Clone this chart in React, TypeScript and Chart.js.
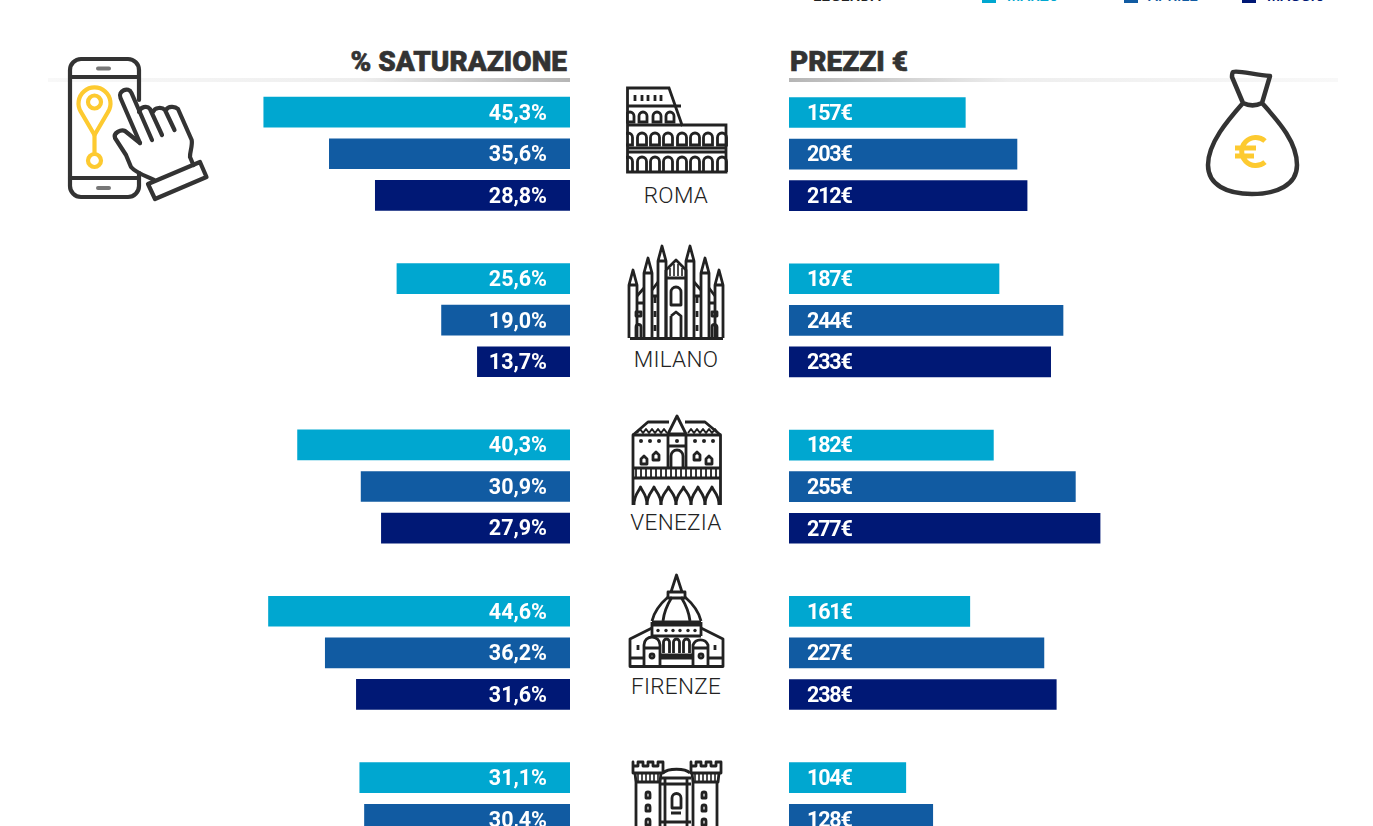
import React, { useEffect, useRef } from "react";
import { Chart, registerables } from "chart.js";

Chart.register(...registerables);

const cities = ["ROMA", "MILANO", "VENEZIA", "FIRENZE", "NAPOLI"];
const months = ["MARZO", "APRILE", "MAGGIO"];
const monthColors = ["#00a7d0", "#115ba2", "#001875"];

const saturationMarzo = [45.3, 25.6, 40.3, 44.6, 31.1];
const saturationAprile = [35.6, 19.0, 30.9, 36.2, 30.4];
const saturationMaggio = [28.8, 13.7, 27.9, 31.6];

const pricesMarzo = [157, 187, 182, 161, 104];
const pricesAprile = [203, 244, 255, 227, 128];
const pricesMaggio = [212, 233, 277, 238];

const SLOTS = 18;

function slots(series: number[][]) {
  return series.map((values, m) => {
    const out: (number | null)[] = new Array(SLOTS).fill(null);
    values.forEach((v, c) => {
      const i = c * 4 + m;
      if (i < SLOTS) out[i] = v;
    });
    return out;
  });
}

function makeChart(
  canvas: HTMLCanvasElement,
  series: number[][],
  max: number,
  reverse: boolean,
  padTop: number,
  spacing: string,
  fmt: (v: number) => string
) {
  const data = slots(series);
  const labelPlugin = {
    id: "barText",
    afterDatasetsDraw(chart: any) {
      const ctx = chart.ctx;
      ctx.save();
      ctx.font = "700 21.5px Roboto";
      ctx.letterSpacing = spacing;
      ctx.fillStyle = "#ffffff";
      ctx.textBaseline = "middle";
      ctx.textAlign = reverse ? "right" : "left";
      chart.data.datasets.forEach((ds: any, d: number) => {
        chart.getDatasetMeta(d).data.forEach((el: any, i: number) => {
          const v = ds.data[i];
          if (v == null) return;
          ctx.fillText(fmt(v), reverse ? el.base - 23 : el.base + 18, el.y + 2);
        });
      });
      ctx.restore();
    },
  };
  return new Chart(canvas, {
    type: "bar",
    data: {
      labels: data[0].map((_, i) => String(i)),
      datasets: data.map((d, m) => ({
        label: months[m],
        data: d,
        backgroundColor: monthColors[m],
        barThickness: 30,
        borderWidth: 0,
      })),
    },
    options: {
      indexAxis: "y",
      animation: false,
      responsive: false,
      maintainAspectRatio: false,
      layout: { padding: { top: padTop, left: 0, right: 0, bottom: 0 } },
      plugins: { legend: { display: false }, tooltip: { enabled: false } },
      scales: {
        x: { display: false, stacked: true, min: 0, max, reverse },
        y: { display: false, stacked: true },
      },
    } as any,
    plugins: [labelPlugin],
  });
}

const abs = (o: React.CSSProperties): React.CSSProperties => ({ position: "absolute", ...o });

const INK = "#222";
const GOLD = "#fdca30";

const arch = (cx: number, bottom: number, h: number, w: number, closed = false) =>
  `M${cx - w / 2} ${bottom}V${bottom - h + w / 2}a${w / 2} ${w / 2} 0 0 1 ${w} 0V${bottom}${closed ? "Z" : ""}`;
const pointed = (x1: number, x2: number, bottom: number, h: number) =>
  `M${x1} ${bottom}C${x1} ${bottom - h * 0.6} ${(x1 + x2) / 2 - 2} ${bottom - h * 0.7} ${(x1 + x2) / 2} ${bottom - h}C${(x1 + x2) / 2 + 2} ${bottom - h * 0.7} ${x2} ${bottom - h * 0.6} ${x2} ${bottom}`;
const spire = (x: number, top: number, bottom: number) =>
  `M${x - 4} ${bottom}V${top + 15}L${x} ${top}L${x + 4} ${top + 15}V${bottom}M${x - 4} ${top + 15}H${x + 4}`;

function PhoneIcon() {
  return (
    <svg style={abs({ left: 60, top: 50 })} width={155} height={160} viewBox="60 50 155 160" fill="none">
      <g stroke="#333" strokeWidth={4.2} strokeLinecap="round" strokeLinejoin="round">
        <path d="M139 100V70a11 11 0 0 0 -11 -11H81a11 11 0 0 0 -11 11v116a11 11 0 0 0 11 11h47a11 11 0 0 0 11 -11v-13" />
        <path d="M70 77H139M70 178H137" />
        <path d="M140 143L120.500 98c-3-7 8-12 11-5L152 140" />
        <path d="M139 112c1-5 8-7 11-3L162 135M153 112c2-5 9-5 12-2L174.500 130M166 110c2-4 9-4 12-1L191.700 140c1 6-2 12-1.700 17l3.400 8" />
        <path d="M140 143L125 131c-4-2-12 2-10 7L126 155L131 167c5 6 15 9 23 13" />
        <path d="M148 184L200 162L206.500 177L155 199Z" />
      </g>
      <path d="M98 68.500H109M98 188H109" stroke="#777" strokeWidth={4} strokeLinecap="round" />
      <g stroke={GOLD} strokeWidth={4.2} strokeLinecap="round" strokeLinejoin="round">
        <path d="M94.500 135L81 112a16 16 0 1 1 27 0Z" />
        <circle cx="94.500" cy="102" r="6.500" />
        <circle cx="94.500" cy="160.500" r="6.500" />
        <path d="M94.500 135V154" />
      </g>
    </svg>
  );
}

function BagIcon() {
  return (
    <svg style={abs({ left: 1195, top: 60 })} width={115} height={145} viewBox="1195 60 115 145" fill="none">
      <path d="M1233 72c5-2 22 3 37 4l-8 27c-6 3-13 3-19 0l-11-26c0-3 0-4 1-5ZM1243 103c-15 17-35 40-35 62 0 20 19 29 44 29s45-9 45-29c0-24-20-45-35-62" stroke="#333" strokeWidth={4.5} strokeLinejoin="round" />
      <path d="M1265 141a14 14 0 1 0 0 21M1235 148H1256M1235 156H1254" stroke={GOLD} strokeWidth={5} />
    </svg>
  );
}

function Colosseum() {
  const row1 = [630, 643, 657, 670];
  const row2 = [628, 642, 655, 668, 682, 695, 708, 722];
  return (
    <svg style={abs({ left: 626, top: 80 })} width={102} height={95} viewBox="626 80 102 95" fill="none">
      <g stroke={INK} strokeWidth={2.8} strokeLinejoin="miter">
        <path d="M627.500 88H669L682 125H726V172H627.500Z" />
        <path d="M628 106H681M628 125H682M628 148H726M628 152H726" />
        <path d="M635 95v6M642 95v6M648 95v6M655 95v6M661 95v6" />
        {row1.map((x) => <path key={x} d={arch(x, 122, 10, 8, true)} />)}
        {row2.map((x) => <path key={x} d={arch(x, 145, 12, 9, true)} />)}
        {row2.map((x) => <path key={x} d={arch(x, 172, 15, 9)} />)}
      </g>
    </svg>
  );
}

function Duomo() {
  const spires = [[633, 270], [648, 258], [662, 246], [690, 246], [705, 258], [719, 270]];
  return (
    <svg style={abs({ left: 620, top: 240 })} width={112} height={105} viewBox="620 240 112 105" fill="none">
      <g stroke={INK} strokeWidth={2.8} strokeLinejoin="round">
        <path d="M630 338.500H723" strokeWidth={3} />
        {spires.map(([x, t]) => <path key={x} d={spire(x, t, 338)} />)}
        <path d="M666 270L676 260L686 270V338M666 270V338M666 278H686" />
        <path d="M670 268v8M674 264v12M678 264v12M682 268v8" strokeWidth={1.6} />
        <path d="M652 290L658 282M652 296H658M694 282L701 290M694 296H701M637 296L644 288M637 303H644M709 288L715 296M709 303H715" />
        <path d="M671 305V292a5 5 0 0 1 10 0v13ZM671 316l5-4 5 4V338M671 316V338" />
        <path d="M655 297v6M655 311v6M655 325v6M697 297v6M697 311v6M697 325v6" />
        <path d="M636 338v-11a2.500 2.500 0 0 1 5 0v11M712 338v-11a2.500 2.500 0 0 1 5 0v11M636 316h5v-4h-5ZM712 316h5v-4h-5Z" />
      </g>
    </svg>
  );
}

function Palazzo() {
  const windows = [644, 656, 697, 709];
  const dots = [641, 650, 659, 695, 704, 713];
  const hatch = [636, 641, 646, 651, 656, 661, 666, 671, 676, 681, 686, 691, 696, 701, 706, 711, 716];
  const arches = [[634, 647], [647, 661], [661, 676], [676, 691], [691, 705], [705, 719]];
  return (
    <svg style={abs({ left: 620, top: 410 })} width={112} height={100} viewBox="620 410 112 100" fill="none">
      <g stroke={INK} strokeWidth={2.8} strokeLinejoin="round">
        <path d="M633 505V435H720.500V505M633 468H720.500M633 478H720.500" />
        <path d="M633 435L648 422H669M685 422H705L720.500 435" />
        <path d="M637 433l3-4 3 4 3-4 3 4 3-4 3 4 3-4 3 4 3-4 3 4M688 433l3-4 3 4 3-4 3 4 3-4 3 4 3-4 3 4 3-4 3 4" strokeWidth={2} />
        <path d="M668 434L677 416L686 434ZM668 434V468M686 434V468M668 446H686" />
        <path d="M671 468v-12a6 6 0 0 1 12 0v12" />
        {windows.map((x, i) => <path key={x} d={`M${x - 3} ${i === 0 || i === 3 ? 464 : 460}v-5l3-3 3 3v5Z`} />)}
        {hatch.map((x) => <path key={x} d={`M${x} 469v8`} strokeWidth={1.8} />)}
        {arches.map(([a, b]) => <path key={a} d={pointed(a, b, 505, 18)} />)}
      </g>
      <g fill={INK}>
        {dots.map((x) => <circle key={x} cx={x} cy={441} r={2} />)}
        <circle cx={677} cy={441} r={2} />
      </g>
    </svg>
  );
}

function Cupola() {
  const dots = [658, 666, 673, 680, 688, 695];
  return (
    <svg style={abs({ left: 620, top: 570 })} width={112} height={105} viewBox="620 570 112 105" fill="none">
      <g stroke={INK} strokeWidth={2.8} strokeLinejoin="round">
        <path d="M671 592L676.500 575L682 592ZM668 598v-6h17v6Z" />
        <path d="M668 597C660 604 654 612 652 621M685 597C693 604 699 612 701 621M672 597C667 605 664 612 663 621M681 597C686 605 689 612 690 621" />
        <path d="M652 622H701M652 625H701M652 622V636M701 622V636M652 636H701" />
        <path d="M652 628L630 639V666.500H723V639L701 628" />
        <path d="M644 666V645a8 8 0 0 1 16 0V666M644 648H660M693 666V645a8 8 0 0 1 15 0V666M693 648H708M630 658H644M708 658H723M660 655H693M660 658H693" />
        <path d={arch(666.5, 653, 14, 6)} />
        <path d={arch(676.5, 653, 14, 6)} />
        <path d={arch(686.5, 653, 14, 6)} />
        <path d="M638 645v5M715 645v5" />
        <circle cx={652} cy={656} r={2} />
        <circle cx={701} cy={656} r={2} />
      </g>
      <g fill={INK}>{dots.map((x) => <circle key={x} cx={x} cy={630.5} r={1.7} />)}</g>
    </svg>
  );
}

function Castello() {
  const hatchL = [638, 642, 646, 650, 654, 658];
  const hatchR = [695, 699, 703, 707, 711, 715];
  const win = [648, 704];
  const wy = [795, 808, 822];
  return (
    <svg style={abs({ left: 620, top: 755 })} width={112} height={71} viewBox="620 755 112 71" fill="none">
      <g stroke={INK} strokeWidth={2.8} strokeLinejoin="round">
        <path d="M633 762v11H663V762h-5v4h-5v-4h-5v4h-5v-4h-5v4h-5ZM691 762v11h30V762h-5v4h-5v-4h-5v4h-5v-4h-5v4h-5Z" />
        <path d="M635 773l1 9H660l1-9M692 773l1 9H718l1-9M636 782V826M660 782V826M693 782V826M717 782V826" />
        {hatchL.concat(hatchR).map((x) => <path key={x} d={`M${x} 774v7`} strokeWidth={1.6} />)}
        <path d="M663 773C668 768 685 768 690 773M661 778H691M661 784H691M665 778V826M687 778V826M672 808V798a4.500 4.500 0 0 1 9 0V808ZM671 813H681M661 822H691" />
        {win.map((x) => wy.map((y) => <path key={`${x}-${y}`} d={`M${x - 2} ${y + 3}v-4a2 2 0 0 1 4 0v4Z`} />))}
      </g>
    </svg>
  );
}

export default function App() {
  const leftRef = useRef<HTMLCanvasElement>(null);
  const rightRef = useRef<HTMLCanvasElement>(null);

  useEffect(() => {
    const a = makeChart(
      leftRef.current!,
      [saturationMarzo, saturationAprile, saturationMaggio],
      400 / 6.76,
      true,
      0.4,
      "0px",
      (v) => v.toFixed(1).replace(".", ",") + "%"
    );
    const b = makeChart(
      rightRef.current!,
      [pricesMarzo, pricesAprile, pricesMaggio],
      400 / 1.123,
      false,
      0.7,
      "-1.2px",
      (v) => `${v}€`
    );
    return () => {
      a.destroy();
      b.destroy();
    };
  }, []);

  const cityY = [195, 359, 522, 686];
  const legend = [
    { label: months[0], sq: 982, tx: 1007 },
    { label: months[1], sq: 1124, tx: 1148 },
    { label: months[2], sq: 1242, tx: 1267 },
  ];
  const heading: React.CSSProperties = {
    top: 44,
    fontSize: 28,
    fontWeight: 900,
    color: "#333",
    lineHeight: "36px",
    whiteSpace: "nowrap",
    WebkitTextStroke: "0.6px #333",
  };

  return (
    <div style={abs({ left: 0, top: 0, width: 1373, height: 826, overflow: "hidden", background: "#fff", fontFamily: "Roboto" })}>
      <div style={abs({ left: 813, top: -13, fontSize: 15.5, fontWeight: 500, color: "#222", lineHeight: "18px" })}>LEGENDA</div>
      {legend.map((l, i) => (
        <React.Fragment key={l.label}>
          <div style={abs({ left: l.sq, top: -10, width: 14, height: 13, background: monthColors[i] })} />
          <div style={abs({ left: l.tx, top: -13, fontSize: 15, fontWeight: 500, color: monthColors[i], lineHeight: "18px" })}>{l.label}</div>
        </React.Fragment>
      ))}

      <div style={abs({ left: 48, top: 78, width: 522, height: 4, background: "linear-gradient(to right,#f8f8f8,#eeeeee 60%,#b5b5b5)" })} />
      <div style={abs({ left: 789, top: 78, width: 549, height: 4, background: "linear-gradient(to right,#b5b5b5,#eeeeee 40%,#f8f8f8)" })} />
      <div style={abs({ ...heading, right: 1373 - 567 })}>% SATURAZIONE</div>
      <div style={abs({ ...heading, left: 790 })}>PREZZI €</div>

      <canvas ref={leftRef} width={400} height={749} style={abs({ left: 170, top: 91 })} />
      <canvas ref={rightRef} width={400} height={749} style={abs({ left: 789, top: 91 })} />

      <PhoneIcon />
      <BagIcon />
      <Colosseum />
      <Duomo />
      <Palazzo />
      <Cupola />
      <Castello />

      {cityY.map((y, i) => (
        <div key={cities[i]} style={abs({ left: 576, width: 200, top: y - 14, textAlign: "center", fontSize: 22.5, fontWeight: 300, letterSpacing: 0.3, color: "#222", lineHeight: "28px" })}>{cities[i]}</div>
      ))}
    </div>
  );
}
